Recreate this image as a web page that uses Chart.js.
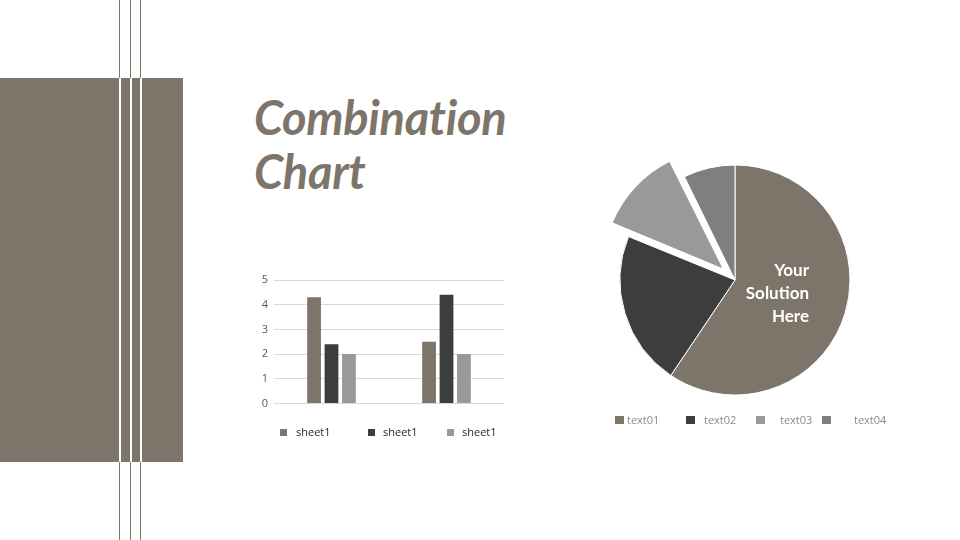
<!DOCTYPE html>
<html>
<head>
<meta charset="utf-8">
<script src="https://cdn.jsdelivr.net/npm/chart.js@4.4.1/dist/chart.umd.min.js"></script>
<style>
  html, body { margin: 0; padding: 0; background: #ffffff; }
  body { width: 960px; height: 540px; position: relative; overflow: hidden; font-family: "Open Sans", sans-serif; }
  .abs { position: absolute; }
  #panel { left: 0; top: 78px; width: 183px; height: 384px; background: #7d756a; }
  .vline { top: 0; width: 1px; height: 540px; background: #7d756a; }
  .vline-in { top: 78px; width: 1.5px; height: 384px; background: #ffffff; }
  #title { left: 254px; top: 90px; color: #7d756a; font-family: "Lato", sans-serif; font-weight: 700; font-style: italic; font-size: 47px; line-height: 54px; letter-spacing: -0.3px; }
  #barWrap { left: 240px; top: 266px; width: 280px; height: 150px; }
  #pieWrap { left: 585px; top: 130px; width: 300px; height: 300px; }
  .leg { position: absolute; font-size: 11px; line-height: 14px; white-space: nowrap; }
  #solution { left: 700px; top: 258px; width: 109px; text-align: right; color: #ffffff; font-family: "Lato", sans-serif; font-weight: 700; font-size: 17px; line-height: 23px; }
</style>
</head>
<body>
<div id="panel" class="abs"></div>
<div class="abs vline" style="left:119px"></div>
<div class="abs vline" style="left:130px"></div>
<div class="abs vline" style="left:140px"></div>
<div class="abs vline-in" style="left:119px"></div>
<div class="abs vline-in" style="left:130px"></div>
<div class="abs vline-in" style="left:140px"></div>

<div id="title" class="abs">Combination<br>Chart</div>

<div id="barWrap" class="abs"><canvas id="bar"></canvas></div>
<div id="pieWrap" class="abs"><canvas id="pie"></canvas></div>
<div id="solution" class="abs">Your<br>Solution<br>Here</div>
<div id="barLegend"></div>
<div id="pieLegend"></div>

<script>
// ---- data ----
const barCategories = ['Category 1', 'Category 2'];
const barSeriesLabels = ['sheet1', 'sheet1', 'sheet1'];
const series1 = [4.3, 2.5];
const series2 = [2.4, 4.4];
const series3 = [2, 2];
const yTicks = [0, 1, 2, 3, 4, 5];

const pieLabels = ['text01', 'text02', 'text03', 'text04'];
const pieValues = [8.2, 3, 1.6, 1];

// ---- styles ----
const barColors = ['#7d756a', '#3d3d3d', '#999999'];
const pieColors = ['#7d756a', '#3d3d3d', '#999999', '#7f7f7f'];
const pieOffsets = [0, 0, 64, 0];

new Chart(document.getElementById('bar'), {
  type: 'bar',
  data: {
    labels: barCategories,
    datasets: [series1, series2, series3].map((d, i) => ({
      label: barSeriesLabels[i],
      data: d,
      backgroundColor: barColors[i],
      categoryPercentage: 0.455,
      barPercentage: 0.79
    }))
  },
  options: {
    responsive: true,
    maintainAspectRatio: false,
    animation: false,
    layout: { padding: { left: 0, right: 16, top: 14, bottom: 12 } },
    plugins: { legend: { display: false }, tooltip: { enabled: false } },
    scales: {
      x: { display: false },
      y: {
        min: 0, max: 5,
        afterFit: s => { s.width = 34; },
        afterBuildTicks: s => { s.ticks = yTicks.map(v => ({ value: v })); },
        border: { display: false },
        grid: { color: '#d9d9d9', lineWidth: 1, drawTicks: false },
        ticks: { padding: 6, color: '#595959', font: { family: 'Open Sans', size: 11 } }
      }
    }
  }
});

new Chart(document.getElementById('pie'), {
  type: 'pie',
  data: {
    labels: pieLabels,
    datasets: [{
      data: pieValues,
      backgroundColor: pieColors,
      borderColor: '#ffffff',
      borderWidth: 1,
      hoverBorderWidth: 1,
      offset: pieOffsets,
      hoverOffset: 0
    }]
  },
  options: {
    responsive: true,
    maintainAspectRatio: false,
    animation: false,
    radius: 115,
    plugins: { legend: { display: false }, tooltip: { enabled: false } }
  }
});

// ---- HTML legends (labels from data arrays) ----
function buildLegend(containerId, labels, colors, items, textColor, boxSize, top) {
  const c = document.getElementById(containerId);
  labels.forEach((lab, i) => {
    const it = items[i];
    const box = document.createElement('div');
    box.className = 'abs';
    box.style.left = it.box + 'px';
    box.style.top = (top - boxSize.h / 2) + 'px';
    box.style.width = boxSize.w + 'px';
    box.style.height = boxSize.h + 'px';
    box.style.background = colors[i];
    c.appendChild(box);
    const t = document.createElement('div');
    t.className = 'leg';
    t.style.left = it.text + 'px';
    t.style.top = (top - 7.5) + 'px';
    t.style.color = textColor;
    t.textContent = lab;
    c.appendChild(t);
  });
}
buildLegend('barLegend', barSeriesLabels, barColors,
  [{ box: 280, text: 296 }, { box: 368, text: 383 }, { box: 447, text: 462 }],
  '#262626', { w: 7, h: 7 }, 432);
buildLegend('pieLegend', pieLabels, pieColors,
  [{ box: 615, text: 627 }, { box: 686, text: 704 }, { box: 756, text: 780 }, { box: 822, text: 854 }],
  '#8a8a8a', { w: 9, h: 8.5 }, 420);
</script>
</body>
</html>
